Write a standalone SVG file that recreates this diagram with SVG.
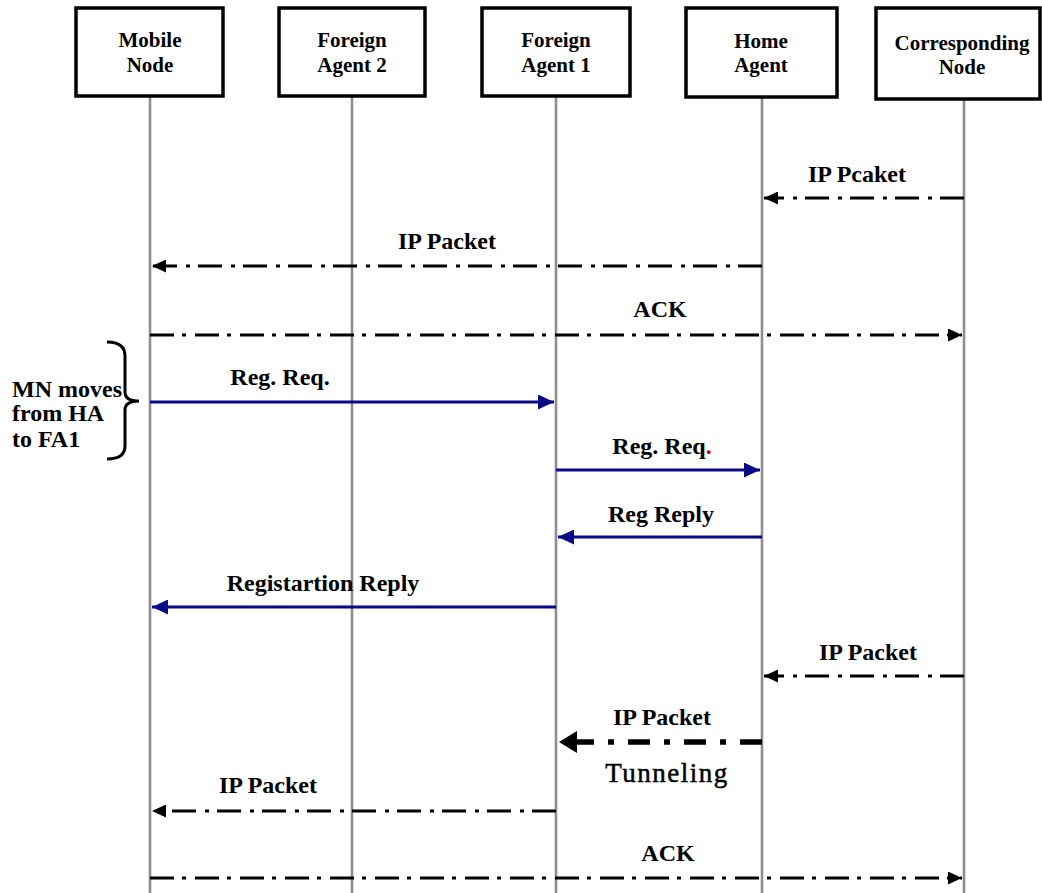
<svg xmlns="http://www.w3.org/2000/svg" width="1042" height="893" viewBox="0 0 1042 893">
  <style>
    .box { fill: #ffffff; stroke: #000000; stroke-width: 3.5; }
    .life { stroke: #8e8e8e; stroke-width: 2.6; fill: none; }
    .hdr { font-family: "Liberation Serif", "Times New Roman", serif; font-weight: bold; font-size: 21px; fill: #000; text-anchor: middle; }
    .lbl { font-family: "Liberation Serif", "Times New Roman", serif; font-weight: bold; font-size: 24px; fill: #000; text-anchor: middle; }
    .note { font-family: "Liberation Serif", "Times New Roman", serif; font-weight: bold; font-size: 24px; fill: #000; }
    .tun { font-family: "Liberation Serif", "Times New Roman", serif; font-size: 27px; letter-spacing: 1.5px; fill: #000; stroke: #000; stroke-width: 0.5; text-anchor: middle; }
    .dd { stroke: #000; stroke-width: 3; fill: none; stroke-dasharray: 24 8 4 9; }
    .ddthick { stroke: #000; stroke-width: 5.5; fill: none; stroke-dasharray: 22 14 6 14; }
    .solid { stroke: #0a0a86; stroke-width: 3; fill: none; }
    .brace { stroke: #000; stroke-width: 3; fill: none; }
  </style>
  <defs>
    <marker id="headBlack" markerUnits="userSpaceOnUse" markerWidth="14" markerHeight="13" refX="14" refY="6.5" orient="auto">
      <path d="M0,0 L14,6.5 L0,13 z" fill="#000"/>
    </marker>
    <marker id="headBlue" markerUnits="userSpaceOnUse" markerWidth="16" markerHeight="15" refX="16" refY="7.5" orient="auto">
      <path d="M0,0 L16,7.5 L0,15 z" fill="#0a0a86"/>
    </marker>
    <marker id="headThick" markerUnits="userSpaceOnUse" markerWidth="18" markerHeight="22" refX="18" refY="11" orient="auto">
      <path d="M0,0 L18,11 L0,22 z" fill="#000"/>
    </marker>
  </defs>

  <rect width="1042" height="893" fill="#ffffff"/>

  <!-- lifelines -->
  <g id="lifelines">
    <line class="life" x1="150" y1="96" x2="150" y2="893"/>
    <line class="life" x1="352" y1="96" x2="352" y2="893"/>
    <line class="life" x1="556" y1="96" x2="556" y2="893"/>
    <line class="life" x1="762" y1="97" x2="762" y2="893"/>
    <line class="life" x1="964" y1="99" x2="964" y2="893"/>
  </g>

  <!-- participants -->
  <g id="mobile-node">
    <rect class="box" x="76" y="8" width="147" height="88"/>
    <text class="hdr" x="150" y="47">Mobile</text>
    <text class="hdr" x="150" y="72">Node</text>
  </g>
  <g id="foreign-agent-2">
    <rect class="box" x="279" y="8" width="146" height="88"/>
    <text class="hdr" x="352" y="47">Foreign</text>
    <text class="hdr" x="352" y="72">Agent 2</text>
  </g>
  <g id="foreign-agent-1">
    <rect class="box" x="482" y="8" width="148" height="88"/>
    <text class="hdr" x="556" y="47">Foreign</text>
    <text class="hdr" x="556" y="72">Agent 1</text>
  </g>
  <g id="home-agent">
    <rect class="box" x="686" y="8" width="151" height="89"/>
    <text class="hdr" x="761" y="48">Home</text>
    <text class="hdr" x="761" y="72">Agent</text>
  </g>
  <g id="corresponding-node">
    <rect class="box" x="876" y="8" width="164" height="91"/>
    <text class="hdr" x="962" y="50">Corresponding</text>
    <text class="hdr" x="962" y="74">Node</text>
  </g>

  <!-- messages -->
  <g id="connectors">
    <line class="dd" x1="964" y1="198" x2="764" y2="198" marker-end="url(#headBlack)"/>
    <line class="dd" x1="762" y1="266" x2="152" y2="266" marker-end="url(#headBlack)"/>
    <line class="dd" x1="150" y1="335" x2="962" y2="335" marker-end="url(#headBlack)"/>
    <line class="solid" x1="150" y1="402" x2="554" y2="402" marker-end="url(#headBlue)"/>
    <line class="solid" x1="556" y1="470" x2="760" y2="470" marker-end="url(#headBlue)"/>
    <line class="solid" x1="762" y1="537" x2="558" y2="537" marker-end="url(#headBlue)"/>
    <line class="solid" x1="556" y1="607" x2="152" y2="607" marker-end="url(#headBlue)"/>
    <line class="dd" x1="964" y1="676" x2="764" y2="676" marker-end="url(#headBlack)"/>
    <line class="ddthick" x1="762" y1="742" x2="559" y2="742" marker-end="url(#headThick)"/>
    <line class="dd" x1="556" y1="811" x2="152" y2="811" marker-end="url(#headBlack)"/>
    <line class="dd" x1="150" y1="878" x2="962" y2="878" marker-end="url(#headBlack)"/>
  </g>

  <!-- message labels -->
  <g id="labels">
    <text class="lbl" x="857" y="182">IP Pcaket</text>
    <text class="lbl" x="447" y="249">IP Packet</text>
    <text class="lbl" x="660" y="317">ACK</text>
    <text class="lbl" x="280" y="385">Reg. Req.</text>
    <text class="lbl" x="662" y="454">Reg. Req<tspan fill="#d00000">.</tspan></text>
    <text class="lbl" x="661" y="522">Reg Reply</text>
    <text class="lbl" x="323" y="591">Registartion Reply</text>
    <text class="lbl" x="868" y="660">IP Packet</text>
    <text class="lbl" x="662" y="725">IP Packet</text>
    <text class="tun" x="667" y="782">Tunneling</text>
    <text class="lbl" x="268" y="793">IP Packet</text>
    <text class="lbl" x="668" y="861">ACK</text>
  </g>

  <!-- handover note -->
  <g id="handover-note">
    <path class="brace" d="M107,342 Q125,342 125,356 L125,392 Q125,401 139,401 Q125,401 125,410 L125,446 Q125,459 107,459"/>
    <text class="note" x="12" y="397">MN moves</text>
    <text class="note" x="12" y="421">from HA</text>
    <text class="note" x="12" y="447">to FA1</text>
  </g>
</svg>
